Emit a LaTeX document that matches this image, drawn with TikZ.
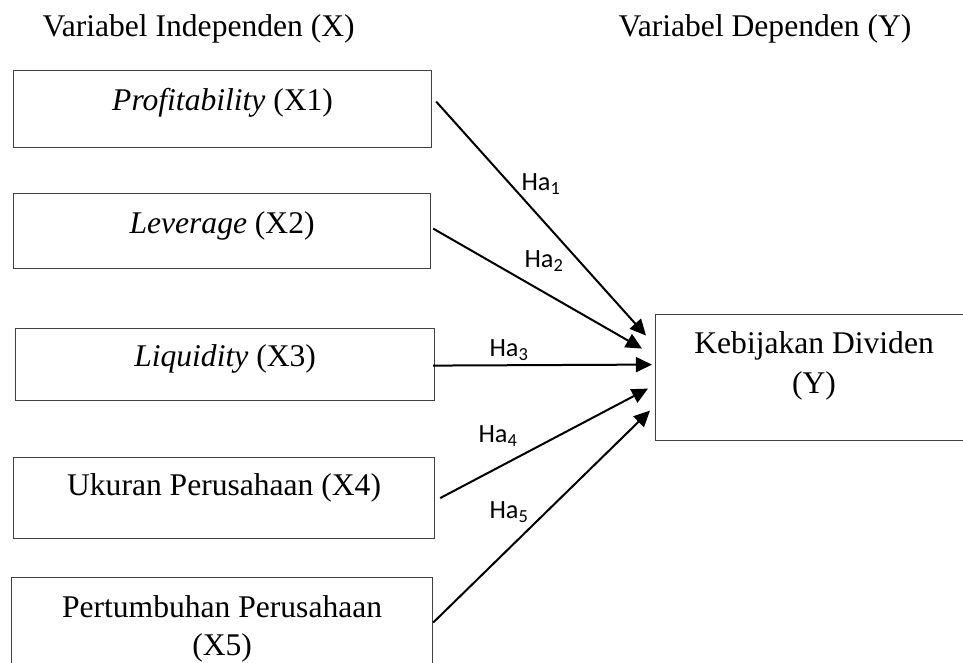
\documentclass[tikz,border=0pt]{standalone}
\usepackage{fontspec}
\setmainfont{Liberation Serif}
\newfontfamily\hafont{Carlito}
\usetikzlibrary{arrows.meta}
\tikzset{
  var/.style={draw=black!75,line width=0.45pt,inner sep=0pt,anchor=north west,
    align=center,font=\fontsize{12}{14.4}\selectfont},
  title/.style={inner sep=0pt,anchor=base west,font=\fontsize{12}{14.4}\selectfont},
  hyp/.style={inner sep=0pt,anchor=base west,font=\hafont\fontsize{10}{12}\selectfont},
  hyparrow/.style={-{Triangle[length=6.1pt,width=5.7pt]},line width=0.76pt}
}

\begin{document}
\begin{tikzpicture}[x=0.38pt,y=-0.38pt]
  \useasboundingbox (0,0) rectangle (963,663);
  % headings
  \node[title] (tx) at (42,37) {Variabel Independen (X)};
  \node[title] (ty) at (618,37) {Variabel Dependen (Y)};
  % independent variables
  \node[var,minimum width=158.84pt,text height=15.2pt,text depth=14.06pt] (x1) at (13,70) {\textit{Profitability} (X1)};
  \node[var,minimum width=158.46pt,text height=15.2pt,text depth=13.3pt] (x2) at (13,193) {\textit{Leverage} (X2)};
  \node[var,minimum width=159.22pt,text height=14.44pt,text depth=12.92pt] (x3) at (15,328) {\textit{Liquidity} (X3)};
  \node[var,minimum width=159.98pt,text height=14.44pt,text depth=16.34pt] (x4) at (13,457) {Ukuran Perusahaan (X4)};
  \node[var,minimum width=159.98pt,text height=29.64pt,text depth=9.5pt] (x5) at (11,577) {Pertumbuhan Perusahaan\\(X5)};
  % dependent variable
  \node[var,minimum width=120.46pt,text height=30.02pt,text depth=17.86pt,
    font=\fontsize{12}{15.2}\selectfont] (y) at (655,314) {Kebijakan Dividen\\(Y)};
  % hypotheses
  \draw[hyparrow] ([shift={(4,-7.5)}]x1.east) -- ([shift={(-9,-42)}]y.west);
  \draw[hyparrow] ([shift={(2,-2.5)}]x2.east) -- ([shift={(-13,-29)}]y.west);
  \draw[hyparrow] ([shift={(-2,1)}]x3.east) -- ([shift={(-3,-13)}]y.west);
  \draw[hyparrow] ([shift={(5,0)}]x4.east) -- ([shift={(-7,11)}]y.west);
  \draw[hyparrow] ([shift={(0,-6.5)}]x5.east) -- ([shift={(-5,33)}]y.west);
  \node[hyp] (ha1) at (521,191) {Ha\textsubscript{1}};
  \node[hyp] (ha2) at (524,268) {Ha\textsubscript{2}};
  \node[hyp] (ha3) at (489,357) {Ha\textsubscript{3}};
  \node[hyp] (ha4) at (478,443) {Ha\textsubscript{4}};
  \node[hyp] (ha5) at (489,519) {Ha\textsubscript{5}};
\end{tikzpicture}
\end{document}
